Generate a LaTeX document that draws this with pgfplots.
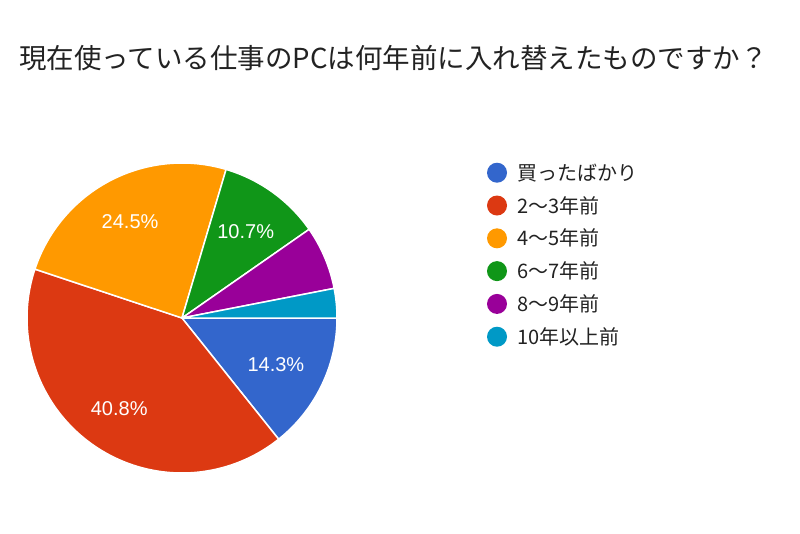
\documentclass[border=0pt]{standalone}
\usepackage{pgfplots}
\pgfplotsset{compat=1.18}
\usepackage{pgfplotstable}
\usepackage{fontspec}
\setmainfont{Noto Sans CJK JP}
\newfontfamily\labelfont{Liberation Sans}
\definecolor{cA}{HTML}{3366CC}
\definecolor{cB}{HTML}{DC3912}
\definecolor{cC}{HTML}{FF9900}
\definecolor{cD}{HTML}{109618}
\definecolor{cE}{HTML}{990099}
\definecolor{cF}{HTML}{0099C6}
\definecolor{txt}{HTML}{222222}

% answers per category (n = 196)
\pgfplotstableread{
slice count
1 28
2 80
3 48
4 21
5 13
6 6
}\piedata
\pgfplotstablegetelem{0}{count}\of\piedata\pgfmathsetmacro\cA{\pgfplotsretval}
\pgfplotstablegetelem{1}{count}\of\piedata\pgfmathsetmacro\cB{\pgfplotsretval}
\pgfplotstablegetelem{2}{count}\of\piedata\pgfmathsetmacro\cC{\pgfplotsretval}
\pgfplotstablegetelem{3}{count}\of\piedata\pgfmathsetmacro\cD{\pgfplotsretval}
\pgfplotstablegetelem{4}{count}\of\piedata\pgfmathsetmacro\cE{\pgfplotsretval}
\pgfplotstablegetelem{5}{count}\of\piedata\pgfmathsetmacro\cF{\pgfplotsretval}
\pgfmathsetmacro\tot{\cA+\cB+\cC+\cD+\cE+\cF}
\pgfmathsetmacro\deg{360/\tot}
\pgfmathsetmacro\eA{-\deg*\cA}
\pgfmathsetmacro\eB{\eA-\deg*\cB}
\pgfmathsetmacro\eC{\eB-\deg*\cC}
\pgfmathsetmacro\eD{\eC-\deg*\cD}
\pgfmathsetmacro\eE{\eD-\deg*\cE}
\pgfmathsetmacro\eF{\eE-\deg*\cF}

\begin{document}
\begin{tikzpicture}
\path[use as bounding box] (0pt,0pt) rectangle (800pt,-533pt);
\begin{axis}[
  at={(182pt,-318pt)}, anchor=center,
  width=310pt, height=310pt, scale only axis,
  xmin=-1, xmax=1, ymin=-1, ymax=1,
  axis lines=none, ticks=none, clip=false,
  title={現在使っている仕事のPCは何年前に入れ替えたものですか？},
  title style={at={(axis description cs:1.1823,1.320)}, anchor=center,
    font=\fontsize{27.5}{30}\selectfont, text=txt, inner sep=0pt},
  legend cell align=left,
  legend style={at={(axis description cs:1.4839,1.0216)}, anchor=north west,
    draw=none, fill=none, inner sep=0pt, outer sep=0pt, row sep=0pt,
    font=\fontsize{20}{24}\selectfont, text=txt,
    cells={anchor=base west},
    /tikz/every odd column/.append style={column sep=10pt},
    nodes={inner sep=0pt, text height=24pt, text depth=8.8pt}},
  legend image code/.code={\fill[#1,draw=none] (10pt,7.6pt) circle (10pt);},
]
\addplot[fill=cA, draw=white, line width=1.5pt, line join=round, domain=\eA:0, samples=60, variable=\t] ({cos(\t)},{sin(\t)}) -- (axis cs:0,0) -- cycle;
\addlegendentry{買ったばかり}
\addplot[fill=cB, draw=white, line width=1.5pt, line join=round, domain=\eB:\eA, samples=120, variable=\t] ({cos(\t)},{sin(\t)}) -- (axis cs:0,0) -- cycle;
\addlegendentry{2〜3年前}
\addplot[fill=cC, draw=white, line width=1.5pt, line join=round, domain=\eC:\eB, samples=80, variable=\t] ({cos(\t)},{sin(\t)}) -- (axis cs:0,0) -- cycle;
\addlegendentry{4〜5年前}
\addplot[fill=cD, draw=white, line width=1.5pt, line join=round, domain=\eD:\eC, samples=40, variable=\t] ({cos(\t)},{sin(\t)}) -- (axis cs:0,0) -- cycle;
\addlegendentry{6〜7年前}
\addplot[fill=cE, draw=white, line width=1.5pt, line join=round, domain=\eE:\eD, samples=30, variable=\t] ({cos(\t)},{sin(\t)}) -- (axis cs:0,0) -- cycle;
\addlegendentry{8〜9年前}
\addplot[fill=cF, draw=white, line width=1.5pt, line join=round, domain=\eF:\eE, samples=20, variable=\t] ({cos(\t)},{sin(\t)}) -- (axis cs:0,0) -- cycle;
\addlegendentry{10年以上前}

\node[text=white, font=\labelfont\fontsize{20}{24}\selectfont] at (axis cs:0.606,-0.303) {14.3\%};
\node[text=white, font=\labelfont\fontsize{20}{24}\selectfont] at (axis cs:-0.405,-0.587) {40.8\%};
\node[text=white, font=\labelfont\fontsize{20}{24}\selectfont] at (axis cs:-0.335,0.621) {24.5\%};
\node[text=white, font=\labelfont\fontsize{20}{24}\selectfont] at (axis cs:0.411,0.557) {10.7\%};
\end{axis}
\end{tikzpicture}
\end{document}
